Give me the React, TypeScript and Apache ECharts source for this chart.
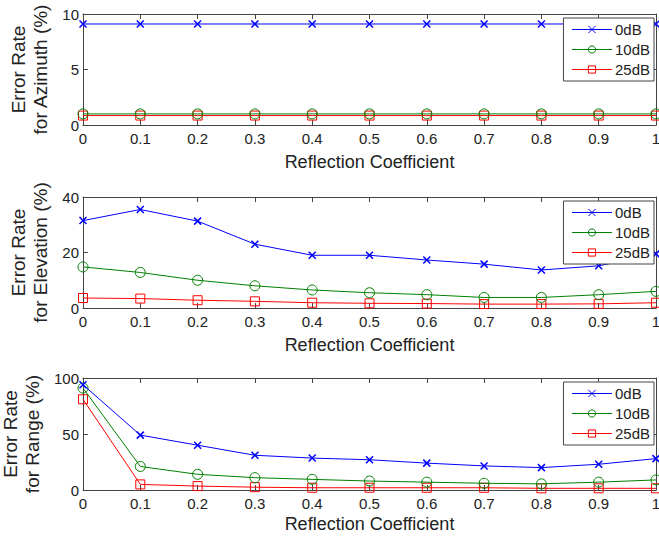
import React, { useEffect, useRef } from "react";
import * as echarts from "echarts";

const xValues = [0, 0.1, 0.2, 0.3, 0.4, 0.5, 0.6, 0.7, 0.8, 0.9, 1];
const seriesNames = ["0dB", "10dB", "25dB"];

const azimuth0dB = [9.1, 9.1, 9.1, 9.1, 9.1, 9.1, 9.1, 9.1, 9.1, 9.1, 9.1];
const azimuth10dB = [1.0, 1.0, 1.0, 1.0, 1.0, 1.0, 1.0, 1.0, 1.0, 1.0, 1.0];
const azimuth25dB = [0.85, 0.85, 0.85, 0.85, 0.85, 0.85, 0.85, 0.85, 0.85, 0.85, 0.85];

const elevation0dB = [31.5, 35.5, 31.3, 23, 19, 19, 17.3, 15.8, 13.7, 15.2, 19.5];
const elevation10dB = [14.8, 12.8, 10, 8, 6.5, 5.5, 4.8, 3.8, 3.8, 4.8, 6];
const elevation25dB = [3.6, 3.4, 2.8, 2.4, 1.9, 1.7, 1.6, 1.4, 1.4, 1.5, 1.9];

const range0dB = [94, 49, 40, 31, 28.5, 27, 24, 21.5, 20, 23, 28];
const range10dB = [91, 21, 14, 11, 9.5, 8, 7, 6, 5.5, 7, 9];
const range25dB = [81, 5, 3.5, 2.5, 2, 2, 2, 2, 1.5, 1.5, 1.5];

const yTitles = ["Error Rate\nfor Azimuth (%)", "Error Rate\nfor Elevation (%)", "Error Rate\nfor Range (%)"];
const yMax = [10, 40, 100];
const yInterval = [5, 20, 50];
const xTitle = "Reflection Coefficient";

const FONT = "Liberation Sans, Arial, Helvetica, sans-serif";
const colors = ["#0000ff", "#008000", "#ff0000"];
const symbols = ["path://M0,0L10,10M10,0L0,10", "circle", "rect"];
const symbolSizes = [7, 10, 9];

export default function App() {
  const ref = useRef<HTMLDivElement>(null);
  useEffect(() => {
    if (!ref.current) return;
    const chart = echarts.init(ref.current, undefined, { renderer: "svg" });
    const panels = [
      [azimuth0dB, azimuth10dB, azimuth25dB],
      [elevation0dB, elevation10dB, elevation25dB],
      [range0dB, range10dB, range25dB],
    ];
    const tops = [14, 197, 378];
    const heights = [111, 111, 112];
    const xNameGaps = [28, 28, 25];
    const grids: any[] = [];
    const xAxes: any[] = [];
    const yAxes: any[] = [];
    const series: any[] = [];
    const legends: any[] = [];
    const axisLineStyle = { color: "#444", width: 1 };
    panels.forEach((p, i) => {
      grids.push({
        left: 83, right: 3, top: tops[i], height: heights[i], show: false,
        containLabel: false, outerBoundsMode: "none",
      });
      xAxes.push({
        gridIndex: i, type: "value", position: "bottom", min: 0, max: 1, interval: 0.1,
        name: xTitle, nameLocation: "middle", nameGap: xNameGaps[i],
        nameTextStyle: { fontFamily: FONT, fontSize: 18, color: "#222" },
        axisLine: { show: true, onZero: false, lineStyle: axisLineStyle },
        axisTick: { show: true, inside: true, length: 5, lineStyle: axisLineStyle },
        axisLabel: { fontFamily: FONT, fontSize: 15, color: "#222", margin: 6 },
        splitLine: { show: false },
      });
      xAxes.push({
        gridIndex: i, type: "value", position: "top", min: 0, max: 1, interval: 0.1,
        axisLine: { show: true, onZero: false, lineStyle: axisLineStyle },
        axisTick: { show: true, inside: true, length: 5, lineStyle: axisLineStyle },
        axisLabel: { show: false },
        splitLine: { show: false },
      });
      yAxes.push({
        gridIndex: i, type: "value", position: "left", min: 0, max: yMax[i], interval: yInterval[i],
        name: yTitles[i], nameLocation: "middle", nameGap: 19, nameRotate: 90,
        nameTextStyle: { fontFamily: FONT, fontSize: 19, color: "#222", lineHeight: 22 },
        axisLine: { show: true, onZero: false, lineStyle: axisLineStyle },
        axisTick: { show: true, inside: true, length: 5, lineStyle: axisLineStyle },
        axisLabel: { fontFamily: FONT, fontSize: 15, color: "#222", margin: 4 },
        splitLine: { show: false },
      });
      yAxes.push({
        gridIndex: i, type: "value", position: "right", min: 0, max: yMax[i], interval: yInterval[i],
        axisLine: { show: true, onZero: false, lineStyle: axisLineStyle },
        axisTick: { show: true, inside: true, length: 5, lineStyle: axisLineStyle },
        axisLabel: { show: false },
        splitLine: { show: false },
      });
      p.forEach((vals, k) => {
        series.push({
          type: "line",
          name: seriesNames[k],
          xAxisIndex: i * 2,
          yAxisIndex: i * 2,
          data: xValues.map((x, j) => [x, vals[j]]),
          symbol: symbols[k],
          symbolSize: symbolSizes[k],
          showAllSymbol: true,
          lineStyle: { color: colors[k], width: 1 },
          itemStyle: {
            color: "rgba(0,0,0,0)",
            borderColor: colors[k],
            borderWidth: k === 0 ? 1.5 : 1,
          },
          z: 3 - k,
        });
      });
      legends.push({
        data: seriesNames,
        orient: "vertical",
        right: 5,
        top: tops[i] + 4,
        backgroundColor: "#fff",
        borderColor: "#444",
        borderWidth: 1,
        padding: [4, 4, 4, 8],
        itemGap: 5,
        itemWidth: 40,
        itemHeight: 9,
        selectedMode: false,
        lineStyle: { width: 1 },
        itemStyle: { borderWidth: 1 },
        textStyle: { fontFamily: FONT, fontSize: 15, color: "#222", padding: [0, 0, 0, -2] },
        z: 10,
      });
    });
    chart.setOption({
      animation: false,
      backgroundColor: "#fff",
      grid: grids,
      xAxis: xAxes,
      yAxis: yAxes,
      series,
      legend: legends,
    });
    return () => chart.dispose();
  }, []);
  return (
    <div
      ref={ref}
      style={{ position: "fixed", left: 0, top: 0, width: 659, height: 536 }}
    />
  );
}
